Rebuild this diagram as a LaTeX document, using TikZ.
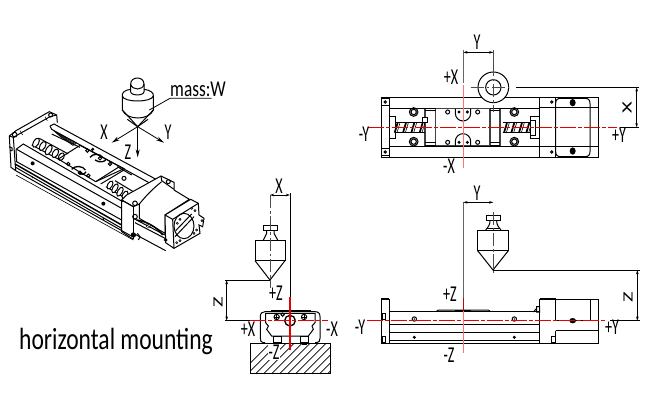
\documentclass[tikz,border=0pt]{standalone}
\usepackage{fontspec}
\setmainfont{Carlito}
\usetikzlibrary{arrows.meta}
\tikzset{
 x=0.75pt,y=-0.75pt,
 obj/.style={line width=0.75pt,black},
 thin obj/.style={line width=0.45pt,black},
 grey/.style={line width=0.75pt,black!60},
 dim/.style={line width=0.6pt,black},
 arr/.style={{Stealth[length=3.2pt,width=2pt]}-{Stealth[length=3.2pt,width=2pt]},line width=0.55pt},
 ax/.style={-{Stealth[length=6pt,width=3pt]},line width=0.6pt},
 redc/.style={line width=0.75pt,red!90!black},
 redl/.style={line width=0.9pt,red!55},
 lab/.style={inner sep=0pt,font=\fontsize{17}{18}\selectfont,xscale=.62},
 zoomscope/.style={x=0.25pt,y=-0.25pt},
 centerl/.style={line width=0.6pt,black!70,dash pattern=on 10pt off 2pt on 2pt off 2pt},
 disc/.style={line width=0.75pt,black,fill=white},
}
\newcommand{\blackdot}[2]{\fill (#1,#2) circle[radius=5];}
\newcommand{\washer}[2]{\draw[obj] (#1,#2) circle[radius=13] (#1,#2) circle[radius=8];}
\newcommand{\hole}[2]{\draw[obj] (#1,#2) circle[radius=6];}
\begin{document}
\begin{tikzpicture}
\useasboundingbox (0,0) rectangle (650,400);
\fill[white] (0,0) rectangle (650,400);

%% ---------- isometric view (3x crop coordinates, origin 0,60)
\begin{scope}[shift={(0pt,-45pt)},zoomscope]
 % weight
 \draw[obj,fill=white] (392,72) .. controls (392,48) and (432,48) .. (432,72) -- (432,95) .. controls (432,108) and (392,108) .. (392,95) -- cycle;
 \draw[obj] (392,72) .. controls (395,92) and (430,92) .. (432,72);
 \draw[obj] (392,88) .. controls (372,90) and (365,100) .. (367,108) .. controls (370,128) and (455,128) .. (460,108) .. controls (462,98) and (450,90) .. (432,88);
 \draw[obj] (367,108) -- (367,150) -- (413,200) -- (460,150) -- (460,108);
 \draw[obj] (367,150) .. controls (380,182) and (447,182) .. (460,150);
 \draw[obj] (382,178) -- (413,200) -- (444,178);
 % axes
 \coordinate (iso0) at (413,200);
 \coordinate (isoX) at (335,248);
 \coordinate (isoY) at (492,248);
 \coordinate (isoZ) at (413,292);
 \draw[ax] (iso0) -- (isoX);
 \draw[ax] (iso0) -- (isoY);
 \draw[ax] (iso0) -- (isoZ);
 % leader
 \draw[dim] (448,150) -- (510,115) -- (635,115);
 % end plate, left
 \draw[obj] (28,228) -- (48,212) -- (148,155) -- (170,165) -- (172,188);
 \draw[obj] (28,228) -- (40,232) -- (150,170) -- (170,165);
 \draw[obj] (28,228) -- (33,322) -- (47,332);
 \draw[obj] (40,232) -- (47,332);
 \draw[thin obj] (60,212) -- (68,225) (135,170) -- (142,182);
 \draw[obj] (44,224) circle[radius=7] (152,165) circle[radius=6];
 \draw[obj] (28,260) -- (36,264) -- (36,272) -- (30,272);
 % main body
 \draw[obj] (150,198) -- (162,192) -- (505,378);
 \draw[obj] (150,198) -- (155,208) -- (465,378);
 \draw[obj] (155,222) -- (240,262);
 \foreach \d in {0,6,12,18,24}{\draw[thin obj] (160+\d*.7,212+\d*.6) -- (232-\d*.5,250+\d*.3);}
 \draw[obj] (48,268) -- (70,252) -- (368,425);
 \draw[obj] (48,268) -- (50,305) -- (365,480);
 \draw[obj] (50,268) -- (365,445);
 \draw[line width=1.1pt] (45,312) -- (365,495);
 \draw[obj] (47,322) -- (365,505);
 \draw[obj] (47,332) -- (392,527);
 \draw[thin obj] (48,345) -- (400,540);
 \fill (98,310) circle[radius=6] (310,431) circle[radius=6];
 \fill (98,352) circle[radius=3] (310,477) circle[radius=3];
 % left screw
 \draw[obj] (95,255) -- (180,300) (118,235) -- (205,282);
 \foreach \c/\r in {(108,248)/15,(128,258)/15,(146,270)/16,(166,280)/14,(184,290)/12}{
  \draw[disc,rotate around={60:\c}] \c ellipse[x radius=\r,y radius=8];}
 % carriage
 \draw[obj] (175,297) -- (240,256) -- (372,326) -- (287,365);
 \draw[obj] (175,297) -- (287,365);
 \draw[obj] (287,365) -- (355,322);
 \draw[obj] (302,372) -- (372,330);
 \draw[obj] (352,320) -- (395,345);
 \draw[obj] (262,272) circle[radius=5] (278,268) circle[radius=3] (330,312) circle[radius=5] (300,295) circle[radius=5]
   (205,312) circle[radius=5] (240,338) circle[radius=5] (265,347) circle[radius=5];
 \draw[line width=1pt] (270,292) .. controls (278,280) and (300,280) .. (308,292);
 \draw[line width=1pt] (285,300) .. controls (300,310) and (315,305) .. (318,298);
 \draw[line width=1pt] (215,328) .. controls (225,315) and (250,318) .. (256,330);
 \draw[line width=1pt] (235,337) .. controls (240,345) and (255,345) .. (258,335);
 \draw[obj] (372,355) circle[radius=6];
 % right screw
 \draw[obj] (318,380) -- (385,420) (345,362) -- (400,395);
 \foreach \c/\r in {(330,375)/13,(345,385)/15,(360,395)/15,(375,405)/13}{
  \draw[disc,rotate around={60:\c}] \c ellipse[x radius=\r,y radius=7];}
 % motor end block
 \draw[obj,fill=white] (365,420) -- (380,405) -- (483,348) -- (522,367) -- (522,390) -- (568,418) -- (495,465) -- (495,520) -- (418,475) -- (418,432) -- (400,440) -- cycle;
 \draw[obj] (365,420) -- (400,440);
 \draw[obj] (483,348) -- (485,362) -- (522,388);
 \draw[obj] (418,432) .. controls (440,405) and (460,385) .. (485,365);
 \draw[obj] (365,420) -- (365,515) -- (400,538);
 \draw[obj] (400,440) -- (400,538);
 \draw[obj] (405,430) circle[radius=7] (505,365) circle[radius=6] (405,470) circle[radius=7];
 \fill (400,525) circle[radius=8];
 \draw[obj] (412,520) -- (420,530) -- (415,540);
 % lower part
 \draw[obj] (400,475) -- (495,525);
 \draw[obj] (405,488) -- (495,535);
 \draw[obj] (400,520) -- (497,572);
 \draw[line width=1.1pt] (410,480) .. controls (440,485) and (470,500) .. (488,525);
 \fill (445,498) ellipse[x radius=7,y radius=5];
 \draw[white,line width=.6pt] (441,500) -- (450,495);
 % flange
 \draw[obj,fill=white] (495,465) -- (572,418) -- (595,430) -- (597,465) -- (612,475) -- (608,500) -- (597,495) -- (600,520) -- (522,565) -- (497,548) -- cycle;
 \draw[obj] (495,465) -- (518,478) -- (595,430);
 \draw[obj] (518,478) -- (522,565);
 \draw[obj] (552,498) ellipse[x radius=30,y radius=38];
 \draw[obj] (525,530) -- (582,470);
 \draw[obj] (527,512) -- (575,462);
 \foreach \p in {(532,490),(540,478),(575,445),(585,452),(590,510),(582,520),(530,548),(540,542),(606,482)}{\draw[thin obj] \p circle[radius=3.2];}
 \draw[obj] (497,540) circle[radius=4];
\end{scope}
\node[lab] (isolX) at (104,132) {X};
\node[lab] (isolY) at (168,132) {Y};
\node[lab] (isolZ) at (128,152) {Z};
\node[lab,xscale=1.23] (lmass) at (198,89) {mass:W};

%% ---------- top view (3x crop coordinates, origin 350,20)
\begin{scope}[shift={(262.5pt,-15pt)},zoomscope]
 \draw[obj] (94,233) rectangle (118,411);
 \draw[obj] (118,233) rectangle (569,264);
 \draw[obj] (118,379) rectangle (569,411);
 \draw[obj] (569,233) rectangle (745,411);
 \draw[obj] (569,263) -- (745,263) (569,379) -- (745,379);
 \draw[obj] (617,233) -- (617,411);
 \draw[obj,fill=white] (617,250) .. controls (617,240) and (622,235) .. (632,235) -- (705,235) .. controls (715,235) and (720,240) .. (720,250) -- (720,395) .. controls (720,405) and (715,410) .. (705,410) -- (632,410) .. controls (622,410) and (617,405) .. (617,395) -- cycle;
 \draw[obj] (617,263) -- (720,263) (617,379) -- (720,379);
 \fill (668,248) ellipse[x radius=9,y radius=11] (668,393) ellipse[x radius=9,y radius=11];
 \foreach \p in {(106,246),(106,396),(605,246),(605,396)}{\draw[obj] \p circle[radius=3.5];}
 \draw[obj] (106,246) +(-11,-11) rectangle +(11,11);
 \draw[obj] (106,396) +(-11,-11) rectangle +(11,11);
 % carriage
 \draw[line width=0.9pt,black!75] (257,266) rectangle (420,377);
 \draw[line width=0.9pt,black!75] (225,266) -- (225,377) (450,266) -- (450,377);
 \draw[obj] (225,270) -- (257,270) (225,366) -- (257,366) (420,270) -- (450,270) (420,366) -- (450,366);
 \draw[line width=1pt] (225,266) -- (257,266) (225,377) -- (257,377) (420,266) -- (450,266) (420,377) -- (450,377);
 \draw[obj] (316,266) -- (316,280) arc[start angle=180,end angle=0,radius=23] -- (362,266);
 \draw[obj] (316,377) -- (316,364) arc[start angle=180,end angle=360,radius=23] -- (362,377);
 \blackdot{327}{276}\blackdot{352}{276}\blackdot{327}{367}\blackdot{352}{367}
 \hole{293}{276}\hole{383}{276}\hole{293}{367}\hole{383}{367}
 \washer{191}{276}\washer{191}{365}\washer{493}{276}\washer{493}{365}
 % screws
 \draw[obj] (118,290) -- (136,290) -- (136,354) -- (118,354);
 \draw[obj] (136,308) -- (225,308) (136,338) -- (225,338);
 \foreach \a in {130,155,180,205}{\draw[line width=1.3pt] (\a+4,338) -- (\a+13,308);\draw[thin obj] (\a+11,338) -- (\a+20,308);}
 \draw[obj,fill=white] (217,292) rectangle (233,307);
 \draw[obj] (458,308) -- (545,308) (458,338) -- (545,338);
 \foreach \a in {458,480,503,525}{\draw[line width=1.3pt] (\a+4,338) -- (\a+13,308);\draw[thin obj] (\a+11,338) -- (\a+20,308);}
 \draw[obj,fill=white] (540,290) rectangle (568,354);
 \draw[obj,fill=white] (540,300) rectangle (555,345);
 % large circle (weight)
 \coordinate (topc) at (430,202);
 \draw[obj,fill=white] (topc) circle[radius=46];
 \draw[obj] (topc) circle[radius=23];
 \draw[centerl] (362,202) -- (478,202);
 \draw[centerl] (430,128) -- (430,275);
 % red axes
 \coordinate (topL) at (55,322);
 \coordinate (topR) at (800,322);
 \draw[redc,dash pattern=on 12pt off 1.5pt on 3pt off 1.5pt] (topL) -- (topR);
 \coordinate (topT) at (340,195);
 \coordinate (topB) at (340,445);
 \draw[redl] (topT) -- (topB);
 % dimensions
 \coordinate (topA) at (340,90);
 \coordinate (topA2) at (340,190);
 \draw[grey] (topA) -- (topA2);
 \coordinate (topd1) at (340,97);
 \coordinate (topd2) at (430,97);
 \draw[arr] (topd1) -- (topd2);
 \draw[centerl] (430,90) -- (430,128);
 \draw[dim] (497,202) -- (868,202);
 \draw[dim] (810,322) -- (868,322);
 \coordinate (topd3) at (860,202);
 \coordinate (topd4) at (860,322);
 \draw[arr] (topd3) -- (topd4);
\end{scope}
\node[lab] (tY) at (477,42) {Y};
\node[lab] (tpX) at (451,77) {+X};
\node[lab] (tmY) at (364,134) {-Y};
\node[lab] (tpY) at (619,135) {+Y};
\node[lab] (tmX) at (449,166) {-X};
\node[lab,rotate=90] (tXd) at (627,108) {X};

%% ---------- front view (3x crop coordinates, origin 350,180)
\begin{scope}[shift={(262.5pt,-135pt)},zoomscope]
 \draw[obj] (94,358) rectangle (118,490);
 \draw[line width=1.4pt] (94,358) -- (118,358);
 \draw[obj] (96,400) rectangle (106,418) (96,468) rectangle (106,488);
 \draw[obj] (118,395) -- (569,395);
 \draw[obj] (118,432) -- (569,432);
 \draw[line width=1.1pt] (118,458) -- (569,458);
 \draw[obj] (118,482) -- (569,482) (118,490) -- (569,490);
 \draw[obj] (258,395) -- (265,390) -- (415,390) -- (422,395);
 \draw[line width=1.3pt] (316,394) -- (362,394);
 \draw[obj] (569,358) rectangle (745,490);
 \draw[line width=1.4pt] (569,358) -- (617,358);
 \draw[obj] (617,358) -- (745,358);
 \draw[obj] (617,358) -- (617,422) -- (720,422) -- (720,358);
 \draw[line width=1.2pt] (617,422) -- (720,422);
 \fill (668,422) ellipse[x radius=10,y radius=8];
 \draw[obj] (617,452) -- (745,452) (617,452) -- (617,490);
 \draw[obj] (605,468) rectangle (615,488);
 \draw[obj] (560,380) rectangle (569,396) (550,396) -- (560,385);
 \draw[obj] (193,417) circle[radius=6.5] (493,417) circle[radius=6.5];
 \fill (193,417) circle[radius=2.5] (493,417) circle[radius=2.5];
 \draw[obj] (193,472) circle[radius=3] (493,472) circle[radius=3];
 % red
 \coordinate (frL) at (50,422);
 \coordinate (frR) at (770,422);
 \draw[redc,dash pattern=on 12pt off 1.5pt on 3pt off 1.5pt] (frL) -- (frR);
 \coordinate (frT) at (340,355);
 \coordinate (frB) at (340,520);
 \draw[redl] (frT) -- (frB);
 \draw[red!80!black,line width=.8pt] (340,355) -- (340,392);
 % weight
 \draw[obj] (408,107) rectangle (452,122);
 \draw[obj] (420,122) .. controls (420,135) and (415,140) .. (407,150) (440,122) .. controls (440,135) and (445,140) .. (453,150);
 \draw[obj] (415,122) -- (445,122) (410,145) -- (450,145);
 \draw[obj] (383,152) rectangle (475,212);
 \draw[obj] (383,212) -- (429,270) -- (475,212);
 \draw[centerl] (430,95) -- (430,285);
 % dimensions
 \coordinate (frA) at (340,65);
 \coordinate (frA2) at (340,355);
 \draw[grey] (frA) -- (frA2);
 \coordinate (frd1) at (340,67);
 \coordinate (frd2) at (430,67);
 \draw[arr] (frd1) -- (frd2);
 \draw[dim] (430,270) -- (870,270);
 \draw[dim] (780,422) -- (870,422);
 \coordinate (frd3) at (862,270);
 \coordinate (frd4) at (862,422);
 \draw[arr] (frd3) -- (frd4);
\end{scope}
\node[lab] (fY) at (477,193) {Y};
\node[lab] (fpZ) at (450,294) {+Z};
\node[lab] (fmY) at (360,327) {-Y};
\node[lab] (fpY) at (612,327) {+Y};
\node[lab] (fmZ) at (449,355) {-Z};
\node[lab,rotate=90] (fZd) at (628,297) {Z};

%% ---------- end view (3x crop coordinates, origin 200,170)
\begin{scope}[shift={(150pt,-127.5pt)},zoomscope]
 % base
 \coordinate (bA) at (150,520);
 \coordinate (bB) at (392,610);
 \begin{scope}
  \clip (bA) rectangle (bB);
  \foreach \i in {0,...,18}{\draw[thin obj] (110+\i*24,620) -- (230+\i*24,500);}
 \end{scope}
 \draw[obj] (bA) rectangle (bB);
 % device
 \draw[obj] (195,518) -- (190,518) .. controls (183,518) and (181,512) .. (181,505) -- (181,440) .. controls (181,430) and (186,425) .. (195,425) -- (345,425) .. controls (355,425) and (360,430) .. (360,440) -- (360,505) .. controls (360,512) and (357,518) .. (350,518) -- (345,518);
 \draw[obj] (197,430) -- (197,458) -- (205,468) -- (200,478) -- (215,498) -- (325,498) -- (340,478) -- (336,468) -- (345,458) -- (345,430) -- cycle;
 \draw[obj] (220,498) rectangle (245,516) (300,498) rectangle (325,516);
 \draw[obj] (226,516) rectangle (238,522) (306,516) rectangle (318,522);
 \draw[line width=1.1pt] (214,421) -- (330,421) (214,421) -- (214,427) (330,421) -- (330,427);
 \draw[obj] (230,441) circle[radius=8] (248,434) circle[radius=5] (312,441) circle[radius=8];
 \draw[obj] (222,441) -- (238,441) (230,433) -- (230,449) (304,441) -- (320,441) (312,433) -- (312,449);
 \draw[line width=1pt] (270,452) circle[radius=16];
 % red
 \coordinate (eL) at (150,452);
 \coordinate (eR) at (385,452);
 \draw[redc,dash pattern=on 12pt off 1.5pt on 3pt off 1.5pt] (eL) -- (eR);
 \coordinate (eT) at (270,380);
 \coordinate (eB) at (270,540);
 \draw[red!90!black,line width=.8pt] (eT) -- (eB);
 % weight
 \draw[obj] (190,166) rectangle (233,180);
 \draw[obj] (200,180) -- (200,190) -- (190,210) (222,180) -- (222,190) -- (233,210);
 \draw[obj] (165,212) rectangle (255,272);
 \draw[obj] (165,272) -- (210,330) -- (255,272);
 \draw[centerl] (210,75) -- (210,355);
 % dims
 \coordinate (ex1) at (270,70);
 \coordinate (ex2) at (270,380);
 \draw[dim] (ex1) -- (ex2);
 \coordinate (ed1) at (210,75);
 \coordinate (ed2) at (270,75);
 \draw[arr] (ed1) -- (ed2);
 \draw[dim] (75,330) -- (210,330);
 \draw[dim] (75,452) -- (150,452);
 \coordinate (ed3) at (80,330);
 \coordinate (ed4) at (80,452);
 \draw[arr] (ed3) -- (ed4);
\end{scope}
\node[lab] (eX) at (279,186) {X};
\node[lab] (epZ) at (276,293) {+Z};
\node[lab,rotate=90] (eZd) at (218,302) {Z};
\node[lab] (epX) at (248,329) {+X};
\node[lab] (emX) at (332,329) {-X};
\node[lab,fill=white,inner sep=.5pt] (emZ) at (274,352) {-Z};

\node[inner sep=0pt,font=\fontsize{23}{24}\selectfont,xscale=.768] (title) at (116,341) {horizontal mounting};
\end{tikzpicture}
\end{document}
